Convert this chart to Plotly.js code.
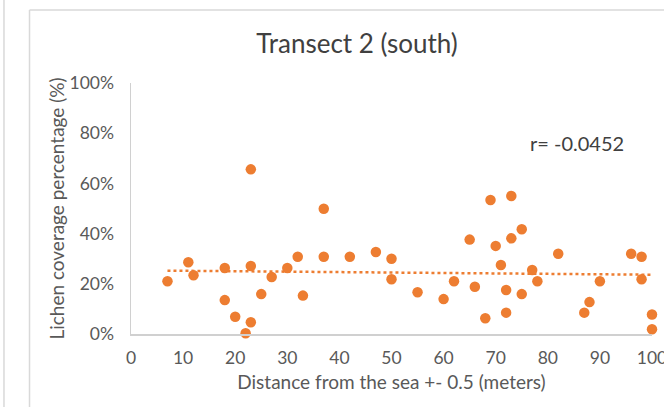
<!DOCTYPE html>
<html>
<head>
<meta charset="utf-8">
<script src="https://cdn.plot.ly/plotly-3.0.1.min.js"></script>
<style>html,body{margin:0;padding:0;background:#fff;}#chart{width:664px;height:407px;}</style>
</head>
<body>
<div id="chart"></div>
<script>
// Distance from the sea (m)
const distance = [7, 11, 12, 18, 18, 20, 22, 23, 23, 23, 25, 27, 30, 32, 33, 37, 37, 42, 47, 50, 50, 55, 60, 62, 65, 66, 68, 69, 70, 71, 72, 72, 73, 73, 75, 75, 77, 78, 82, 87, 88, 90, 96, 98, 98, 100, 100];
// Lichen coverage (%)
const coverage = [21.0, 28.6, 23.4, 26.3, 13.5, 6.9, 0.3, 4.7, 27.1, 65.6, 15.9, 22.7, 26.3, 30.8, 15.3, 49.9, 30.8, 30.8, 32.7, 30.0, 21.8, 16.6, 13.9, 21.0, 37.6, 18.8, 6.3, 53.4, 35.1, 27.5, 17.5, 8.5, 55.0, 38.1, 41.7, 15.9, 25.5, 21.0, 32.0, 8.5, 12.7, 21.0, 32.0, 30.8, 21.8, 7.8, 1.9];
const xTicks = [0, 10, 20, 30, 40, 50, 60, 70, 80, 90, 100];
const yTicks = [0, 20, 40, 60, 80, 100];
const titleText = 'Transect 2 (south)';
const rText = 'r= -0.0452';

// least-squares linear trendline
const n = distance.length;
const mx = distance.reduce((a, b) => a + b, 0) / n;
const my = coverage.reduce((a, b) => a + b, 0) / n;
let sxy = 0, sxx = 0;
for (let i = 0; i < n; i++) { sxy += (distance[i] - mx) * (coverage[i] - my); sxx += (distance[i] - mx) ** 2; }
const slope = sxy / sxx, intercept = my - slope * mx;
const tx = [Math.min(...distance), Math.max(...distance)];
const ty = tx.map(v => intercept + slope * v);

const orange = '#ED7D31';
const font = 'Lato, "Open Sans", sans-serif';

const traces = [
  {x: tx, y: ty, type: 'scatter', mode: 'lines', line: {color: orange, width: 2.5, dash: 'dot'}, hoverinfo: 'skip', cliponaxis: false},
  {x: distance, y: coverage, type: 'scatter', mode: 'markers', marker: {color: orange, size: 10.5}, cliponaxis: false}
];

const frame = '#d9d9d9';
const layout = {
  width: 664, height: 407,
  margin: {l: 131, r: 12, t: 83, b: 73, pad: 0},
  paper_bgcolor: '#fff', plot_bgcolor: '#fff',
  showlegend: false,
  font: {family: font, color: '#595959'},
  title: {text: titleText, font: {family: font, size: 26, color: '#404040'}, x: 0.5377, xref: 'container', xanchor: 'center', y: 0.892, yref: 'container', yanchor: 'middle'},
  xaxis: {
    range: [0, 100], tickvals: xTicks, ticktext: xTicks.map(String),
    showgrid: false, zeroline: false, showline: true, linecolor: '#d0d0d0', linewidth: 1.5,
    ticks: '', tickfont: {size: 17.5, color: '#595959'}, ticklabelstandoff: 7, ticklabeloverflow: 'allow',
    title: {text: 'Distance from the sea +- 0.5 (meters)', font: {size: 19, color: '#595959'}, standoff: 9}
  },
  yaxis: {
    range: [0, 100], tickvals: yTicks, ticktext: yTicks.map(v => v + '%'),
    showgrid: false, zeroline: false, showline: true, linecolor: '#d0d0d0', linewidth: 1.5,
    ticks: '', tickfont: {size: 17.5, color: '#595959'}, ticklabelstandoff: 12,
    title: {text: 'Lichen coverage percentage (%)', font: {size: 19, color: '#595959'}, standoff: 0}
  },
  annotations: [
    {text: rText, xref: 'paper', yref: 'paper', x: 0.856, y: 0.762, xanchor: 'center', yanchor: 'middle', showarrow: false, font: {family: font, size: 20, color: '#404040'}}
  ],
  shapes: [
    {type: 'line', xref: 'paper', yref: 'paper', x0: -0.1948, x1: -0.1948, y0: 1.2908, y1: -0.35, line: {color: frame, width: 1.5}},
    {type: 'line', xref: 'paper', yref: 'paper', x0: -0.1948, x1: 1.1, y0: 1.2908, y1: 1.2908, line: {color: frame, width: 1.5}},
    {type: 'line', xref: 'paper', yref: 'paper', x0: -0.2438, x1: -0.2438, y0: 1.4, y1: -0.35, line: {color: frame, width: 1.5}}
  ]
};

Plotly.newPlot('chart', traces, layout, {displayModeBar: false, staticPlot: true});
</script>
</body>
</html>
